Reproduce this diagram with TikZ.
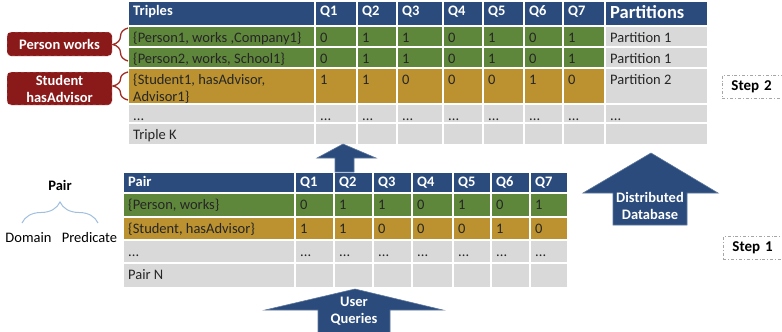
\documentclass[tikz,border=0pt]{standalone}
\usepackage{fontspec}
\setmainfont{Carlito}
\usetikzlibrary{decorations.pathreplacing}

\definecolor{hdrblue}{RGB}{42,75,124}
\definecolor{rowgreen}{RGB}{95,135,60}
\definecolor{rowgold}{RGB}{187,146,47}
\definecolor{cellgray}{RGB}{217,217,217}
\definecolor{boxred}{RGB}{138,26,26}
\definecolor{bracered}{RGB}{160,45,35}
\definecolor{bracelblue}{RGB}{160,190,222}
\newcommand{\tabfont}{\fontsize{14.5}{17}\selectfont}

\begin{document}
\begin{tikzpicture}[x=1pt, y=-1pt,
cell/.style={draw=white, line width=1.2pt, anchor=north west, inner sep=0pt, outer sep=0pt},
hdr/.style={cell, fill=hdrblue},
txt/.style={anchor=north west, inner xsep=5pt, inner ysep=6pt, align=left, font=\tabfont, text=black!85, text height=10pt, text depth=3pt},
htxt/.style={txt, text=white, font=\tabfont\bfseries, inner ysep=3.8pt},
tagbox/.style={rounded corners=4pt, fill=boxred, draw=red!20!white, dashed, text=white, font=\tabfont\bfseries, align=center, inner sep=0pt},
redbrace/.style={draw=bracered, line width=1.3pt, decorate, decoration={brace, amplitude=15pt}},
stepbox/.style={draw=gray!70, line width=0.8pt, dash dot, fill=white, font=\fontsize{15}{17}\selectfont\bfseries, text width=56pt, align=left, inner xsep=9pt, minimum height=23pt},
arrow/.style={fill=hdrblue, draw=hdrblue!75!white, line width=0.6pt},
arrtxt/.style={text=white, font=\tabfont\bfseries, align=center}
]
\useasboundingbox (0,0) rectangle (782,332);
\clip (0,0) rectangle (782,332);

% triples table
\node[hdr, minimum width=187pt, minimum height=25pt, label={[htxt]north west:Triples}] (trip) at (128,1) {};
\node[cell, fill=rowgreen, minimum width=187pt, minimum height=21pt, label={[txt]north west:{\{Person1, works ,Company1\}}}] (t1) at (128,26) {};
\node[cell, fill=rowgreen, minimum width=187pt, minimum height=21pt, label={[txt]north west:{\{Person2, works, School1\}}}] (t2) at (128,47) {};
\node[cell, fill=rowgold, minimum width=187pt, minimum height=36pt, label={[txt, text height=27pt]north west:{\{Student1, hasAdvisor,\\Advisor1\}}}] (t3) at (128,68) {};
\node[cell, fill=cellgray, minimum width=187pt, minimum height=19pt, label={[txt]north west:...}] (t4) at (128,104) {};
\node[cell, fill=cellgray, minimum width=187pt, minimum height=22pt, label={[txt]north west:Triple K}] (t5) at (128,123) {};
\foreach \x/\w/\a/\b/\c [count=\i] in {315/42/0/0/1, 357/40/1/1/1, 397/46/1/1/0, 443/40/0/0/0, 483/41/1/1/0, 524/39/0/0/1, 563/42/1/1/0} {
  \node[hdr, minimum width=\w pt, minimum height=25pt, label={[htxt]north west:Q\i}] (tq\i) at (\x,1) {};
  \node[cell, fill=rowgreen, minimum width=\w pt, minimum height=21pt, label={[txt]north west:\a}] at (\x,26) {};
  \node[cell, fill=rowgreen, minimum width=\w pt, minimum height=21pt, label={[txt]north west:\b}] at (\x,47) {};
  \node[cell, fill=rowgold, minimum width=\w pt, minimum height=36pt, label={[txt]north west:\c}] at (\x,68) {};
  \node[cell, fill=cellgray, minimum width=\w pt, minimum height=19pt, label={[txt]north west:...}] at (\x,104) {};
  \node[cell, fill=cellgray, minimum width=\w pt, minimum height=22pt] at (\x,123) {};
}
\node[hdr, minimum width=103pt, minimum height=25pt, label={[htxt, font=\fontsize{18.5}{20}\selectfont\bfseries, text height=13pt, inner ysep=4.8pt]north west:Partitions}] (part) at (605,1) {};
\node[cell, fill=cellgray, minimum width=103pt, minimum height=21pt, label={[txt]north west:Partition 1}] (p1) at (605,26) {};
\node[cell, fill=cellgray, minimum width=103pt, minimum height=21pt, label={[txt]north west:Partition 1}] (p2) at (605,47) {};
\node[cell, fill=cellgray, minimum width=103pt, minimum height=36pt, label={[txt]north west:Partition 2}] (p3) at (605,68) {};
\node[cell, fill=cellgray, minimum width=103pt, minimum height=19pt, label={[txt]north west:...}] (p4) at (605,104) {};
\node[cell, fill=cellgray, minimum width=103pt, minimum height=22pt] (p5) at (605,123) {};

% pair table
\node[hdr, minimum width=172pt, minimum height=21pt, label={[htxt]north west:Pair}] (pair) at (123,172) {};
\node[cell, fill=rowgreen, minimum width=172pt, minimum height=24pt, label={[txt]north west:{\{Person, works\}}}] (b1) at (123,193) {};
\node[cell, fill=rowgold, minimum width=172pt, minimum height=23pt, label={[txt]north west:{\{Student, hasAdvisor\}}}] (b2) at (123,217) {};
\node[cell, fill=cellgray, minimum width=172pt, minimum height=23pt, label={[txt]north west:...}] (b3) at (123,240) {};
\node[cell, fill=cellgray, minimum width=172pt, minimum height=25pt, label={[txt]north west:Pair N}] (b4) at (123,263) {};
\foreach \x/\w/\a/\b [count=\i] in {295/39/0/1, 334/39/1/1, 373/39/1/0, 412/41/0/0, 453/38/1/0, 491/39/0/1, 530/38/1/0} {
  \node[hdr, minimum width=\w pt, minimum height=21pt, label={[htxt]north west:Q\i}] (bq\i) at (\x,172) {};
  \node[cell, fill=rowgreen, minimum width=\w pt, minimum height=24pt, label={[txt]north west:\a}] at (\x,193) {};
  \node[cell, fill=rowgold, minimum width=\w pt, minimum height=23pt, label={[txt]north west:\b}] at (\x,217) {};
  \node[cell, fill=cellgray, minimum width=\w pt, minimum height=23pt, label={[txt]north west:...}] at (\x,240) {};
  \node[cell, fill=cellgray, minimum width=\w pt, minimum height=25pt] at (\x,263) {};
}

% tags and braces
\node[tagbox, minimum width=105pt, minimum height=24pt] (pw) at (59.5,44) {Person works};
\node[tagbox, minimum width=105pt, minimum height=33pt] (sha) at (59.5,88.5) {Student\\hasAdvisor};
\draw[redbrace] ([yshift=7pt]t2.south west) -- ([yshift=-2pt]t1.north west);
\draw[redbrace] ([yshift=4pt]t3.south west) -- ([yshift=-4pt]t3.north west);

\node[font=\tabfont\bfseries] (pairlbl) at (60,185) {Pair};
\node[font=\tabfont] (dom) at (28.5,238) {Domain};
\node[font=\tabfont] (pred) at (89.5,238) {Predicate};
\coordinate (pbl) at (22,223);
\coordinate (pbr) at (98,223);
\draw[draw=bracelblue, line width=1pt, decorate, decoration={brace, amplitude=21pt}] (pbl) -- (pbr);

% block arrows
\draw[arrow] (317,158) -- (343,144) -- (376,158) -- (354,158) -- (354,172) -- (335,172) -- (335,158) -- cycle;
\draw[arrow] (583,193) -- (651,153) -- (718,193) -- (687,193) -- (687,225) -- (613,225) -- (613,193) -- cycle;
\node[arrtxt] (ddb) at (650,206) {Distributed\\Database};
\draw[arrow] (265,310) -- (355,289) -- (443,310) -- (390,310) -- (390,340) -- (318,340) -- (318,310) -- cycle;
\node[arrtxt] (uq) at (354,311) {User\\Queries};

% steps
\node[stepbox, anchor=west] (step2) at (722,86.5) {Step 2};
\node[stepbox, anchor=west] (step1) at (723,248) {Step 1};
\end{tikzpicture}
\end{document}
